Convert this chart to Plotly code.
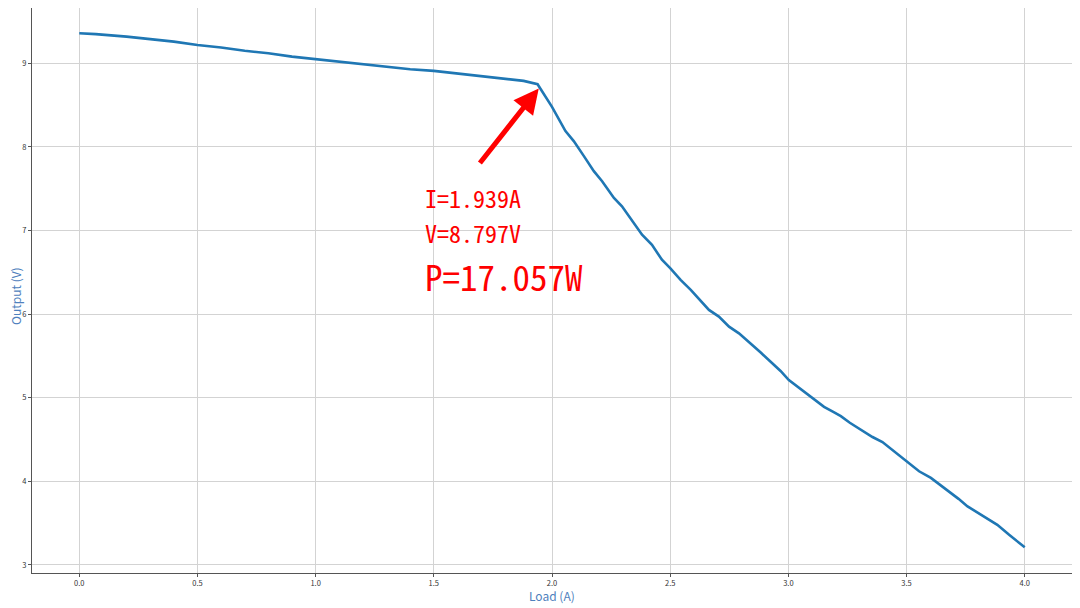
import plotly.graph_objects as go

# load current (A) and output voltage (V)
load = [0.0, 0.07, 0.2, 0.3, 0.4, 0.5, 0.6, 0.7, 0.8, 0.9, 1.0, 1.1, 1.2, 1.3, 1.4,
        1.5, 1.6, 1.7, 1.8, 1.88, 1.939, 2.0, 2.057, 2.092, 2.135, 2.177, 2.212,
        2.262, 2.296, 2.34, 2.381, 2.423, 2.465, 2.5, 2.544, 2.587, 2.625, 2.664,
        2.706, 2.749, 2.791, 2.84, 2.883, 2.925, 2.967, 3.002, 3.038, 3.073, 3.11,
        3.151, 3.19, 3.222, 3.26, 3.292, 3.325, 3.356, 3.398, 3.447, 3.49, 3.52,
        3.553, 3.603, 3.645, 3.68, 3.72, 3.758, 3.814, 3.85, 3.884, 3.934, 3.97, 4.0]
output = [9.36, 9.35, 9.32, 9.29, 9.26, 9.22, 9.19, 9.15, 9.12, 9.08, 9.05, 9.02,
          8.99, 8.96, 8.93, 8.91, 8.88, 8.85, 8.82, 8.79, 8.75, 8.48, 8.19, 8.07,
          7.89, 7.71, 7.59, 7.39, 7.29, 7.12, 6.95, 6.83, 6.65, 6.55, 6.41, 6.29,
          6.17, 6.05, 5.97, 5.85, 5.77, 5.65, 5.54, 5.43, 5.32, 5.21, 5.13, 5.06,
          4.97, 4.89, 4.83, 4.78, 4.70, 4.64, 4.58, 4.53, 4.47, 4.36, 4.27, 4.20,
          4.12, 4.04, 3.95, 3.88, 3.79, 3.70, 3.60, 3.54, 3.48, 3.36, 3.28, 3.21]

x_ticks = [0.0, 0.5, 1.0, 1.5, 2.0, 2.5, 3.0, 3.5, 4.0]
y_ticks = [3, 4, 5, 6, 7, 8, 9]

knee_i = 1.939
knee_v = 8.797
knee_p = 17.057

FONT = "Noto Sans CJK SC, DejaVu Sans"
MONO = "Noto Sans Mono CJK SC, DejaVu Sans Mono"
TITLE_COLOR = "#4f81bd"

fig = go.Figure()
fig.add_trace(go.Scatter(
    x=load, y=output, mode="lines",
    line=dict(color="#1f77b4", width=2.6),
    showlegend=False,
))

# hand-drawn style arrow pointing at the knee
fig.add_annotation(
    x=1.944, y=8.70, ax=1.69, ay=7.79,
    xref="x", yref="y", axref="x", ayref="y",
    text="", showarrow=True,
    arrowhead=2, arrowsize=1.0, arrowwidth=5, arrowcolor="#ff0000",
)

labels = [
    ("I=%.3fA" % knee_i, 7.40, 24),
    ("V=%.3fV" % knee_v, 6.98, 24),
    ("P=%.3fW" % knee_p, 6.46, 35),
]
for txt, yy, size in labels:
    fig.add_annotation(
        x=1.455, y=yy, xref="x", yref="y", xanchor="left", yanchor="middle",
        text=txt, showarrow=False,
        font=dict(family=MONO, size=size, color="#ff0000"),
    )

# axis titles placed by hand so the margins stay tight
fig.add_annotation(
    x=0.5, y=-0.039, xref="paper", yref="paper", xanchor="center", yanchor="middle",
    text="Load (A)", showarrow=False,
    font=dict(family=FONT, size=12, color=TITLE_COLOR),
)
fig.add_annotation(
    x=-0.0165, y=0.49, xref="paper", yref="paper", xanchor="center", yanchor="middle",
    text="Output (V)", showarrow=False, textangle=-90,
    font=dict(family=FONT, size=12, color=TITLE_COLOR),
)

axis_common = dict(
    showgrid=True, gridcolor="#d3d3d3", gridwidth=1,
    showline=True, linecolor="#555555", linewidth=1.2, mirror=True,
    ticks="outside", ticklen=3, tickcolor="#555555",
    tickfont=dict(family=FONT, size=7.5, color="#333333"),
    zeroline=False, automargin=False,
)

fig.update_xaxes(
    range=[-0.2, 4.2], tickvals=x_ticks,
    ticktext=["%.1f" % t for t in x_ticks],
    **axis_common,
)
fig.update_yaxes(
    range=[2.903, 9.662], tickvals=y_ticks,
    **axis_common,
)

# the page body adds 8px on the left and top, so the figure is sized to fit
fig.update_layout(
    width=1072, height=600,
    margin=dict(l=24, r=8, t=0, b=35),
    paper_bgcolor="white", plot_bgcolor="white",
)

fig.write_html("out.html")
